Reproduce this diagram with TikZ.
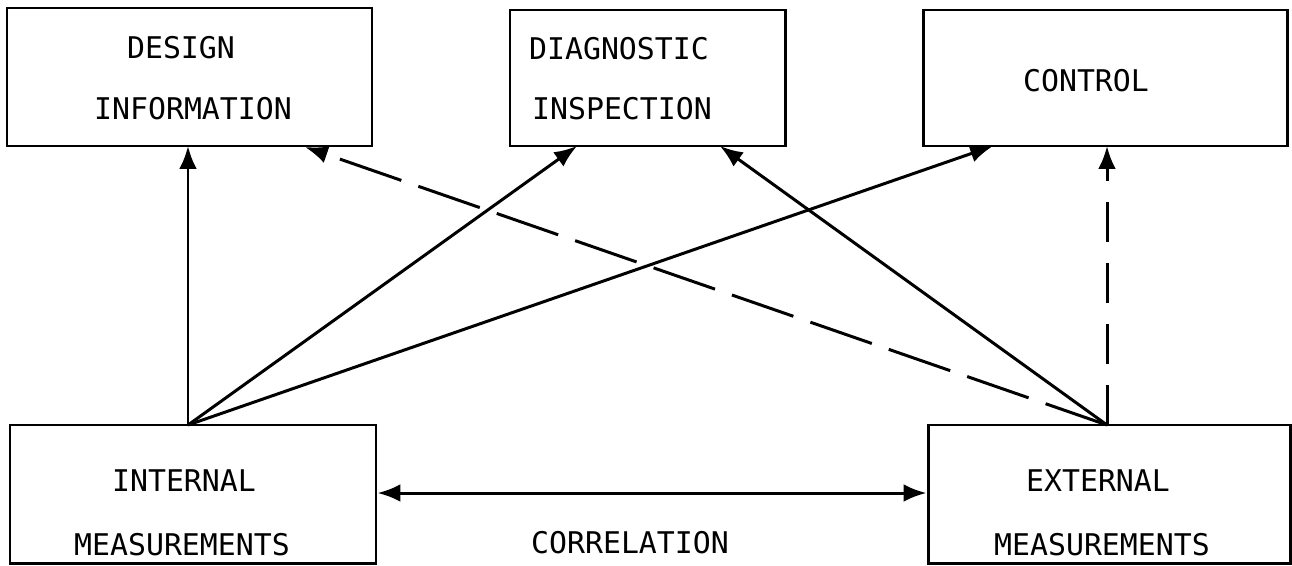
\documentclass[tikz,border=0pt]{standalone}
\usepackage{fontspec}
\setmonofont{DejaVu Sans Mono}
\usetikzlibrary{arrows.meta}
\begin{document}
\begin{tikzpicture}[x=0.02cm,y=-0.02cm,
  box/.style={draw,line width=1.7pt,rectangle,inner sep=0pt},
  lbl/.style={font=\ttfamily\fontsize{17}{20}\selectfont,inner sep=0pt},
  conn/.style={line width=1.7pt,-{Latex[length=13pt,width=10pt]}},
  dsh/.style={conn,dash pattern=on 1.3cm off 0.36cm},
  vdsh/.style={conn,dash pattern=on 0.8cm off 0.42cm},
  both/.style={line width=1.7pt,{Latex[length=13pt,width=10pt]}-{Latex[length=13pt,width=10pt]}}]
\useasboundingbox (0,0) rectangle (1292,565);
% boxes
\node[box,minimum width=365*0.02cm,minimum height=138*0.02cm] (des) at (189.5,77) {};
\node[box,minimum width=275*0.02cm,minimum height=136*0.02cm] (dia) at (647.5,78) {};
\node[box,minimum width=364*0.02cm,minimum height=136*0.02cm] (ctl) at (1105,78) {};
\node[box,minimum width=366*0.02cm,minimum height=138*0.02cm] (int) at (193,494) {};
\node[box,minimum width=362*0.02cm,minimum height=138*0.02cm] (ext) at (1109,494) {};
% texts
\node[lbl] (t1) at (181,48) {DESIGN};
\node[lbl] (t2) at (193,109) {INFORMATION};
\node[lbl] (t3) at (619,49) {DIAGNOSTIC};
\node[lbl] (t4) at (622,109) {INSPECTION};
\node[lbl] (t5) at (1086,81) {CONTROL};
\node[lbl] (t6) at (184,481) {INTERNAL};
\node[lbl] (t7) at (182,545) {MEASUREMENTS};
\node[lbl] (t8) at (1098,481) {EXTERNAL};
\node[lbl] (t9) at (1102,545) {MEASUREMENTS};
\node[lbl] (t10) at (630,543) {CORRELATION};
% connector end points
\coordinate (iA) at (188,425);
\coordinate (eA) at (1107,425);
\coordinate (desA) at (188,146);
\coordinate (desB) at (305,147);
\coordinate (diaA) at (577,146);
\coordinate (diaB) at (720,146);
\coordinate (ctlA) at (993,146);
\coordinate (ctlB) at (1107,146);
% connectors
\draw[conn] (iA) -- (desA);
\draw[conn] (iA) -- (diaA);
\draw[conn] (iA) -- (ctlA);
\draw[conn] (eA) -- (diaB);
\draw[dsh] (eA) -- (desB);
\draw[vdsh] (eA) -- (ctlB);
\draw[both] (int.east |- 0,493) -- (ext.west |- 0,493);
\end{tikzpicture}
\end{document}
